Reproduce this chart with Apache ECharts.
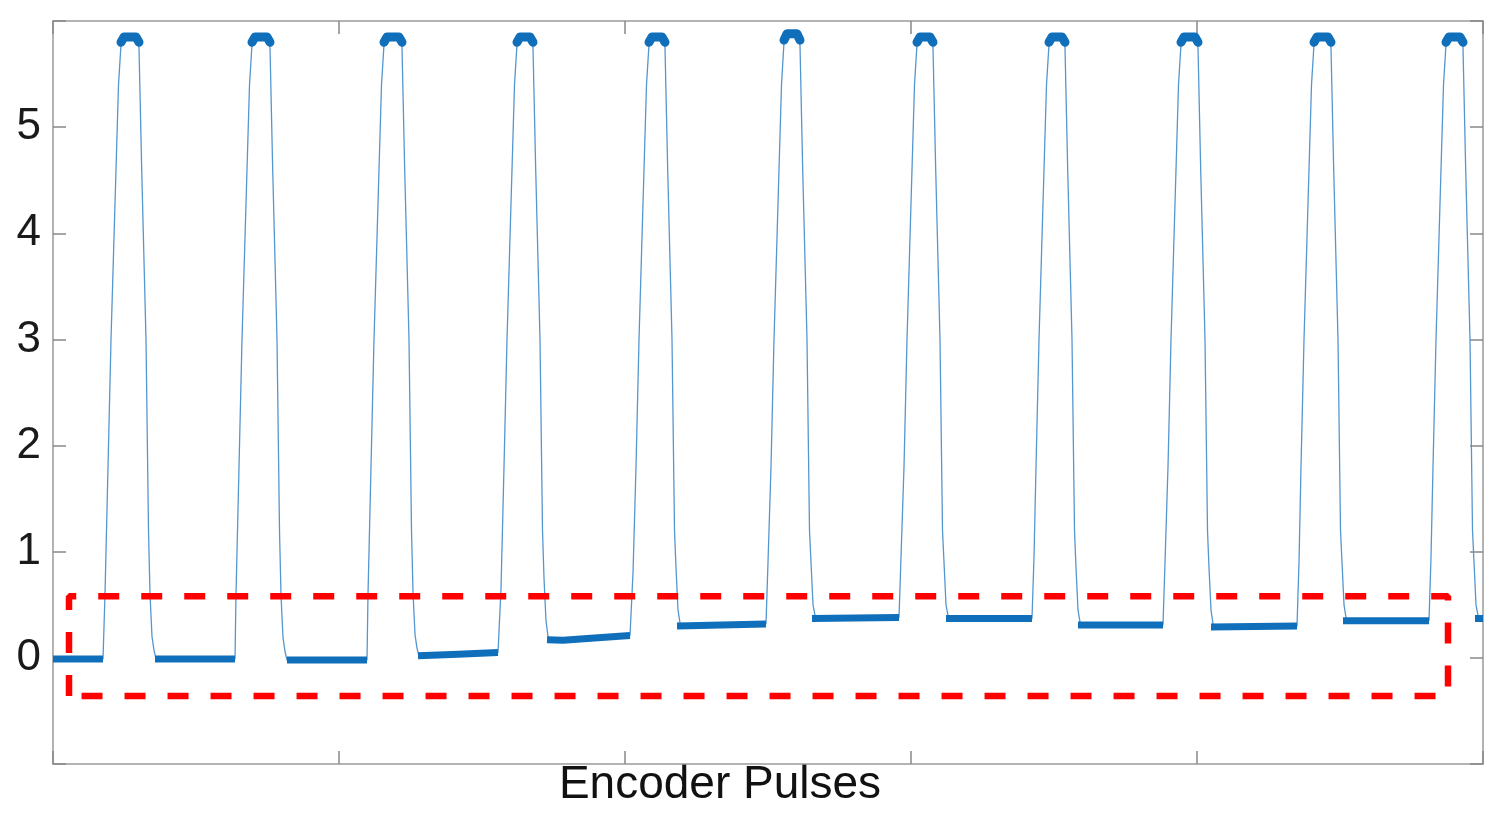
<!DOCTYPE html>
<html>
<head>
<meta charset="utf-8">
<script src="https://cdn.jsdelivr.net/npm/echarts@6/dist/echarts.min.js"></script>
<style>
html,body{margin:0;padding:0;background:#fff;}
#chart{width:1500px;height:815px;}
</style>
</head>
<body>
<div id="chart"></div>
<script>
// Y tick labels
var yTicks = [0, 1, 2, 3, 4, 5];
var xAxisName = 'Encoder Pulses';

// Encoder signal (x in samples, y in volts)
var signal = [
  [0,-0.01],[50,-0.01],
  [52,0.6],[55,1.8],[58,3.0],[63,4.6],[65.5,5.4],[68,5.78],[71,5.85],[83,5.85],[86,5.75],[88.7,4.6],[93,3.0],[95.5,1.2],[97,0.6],[99,0.2],[101,0.07],[103,-0.01],[182,-0.01],
  [183,0.6],[186,1.8],[189,3.0],[194,4.6],[196.5,5.4],[199,5.78],[202,5.85],[214,5.85],[217,5.75],[219.7,4.6],[224,3.0],[226.5,1.2],[228,0.59],[230,0.19],[232,0.06],[234,-0.02],[314,-0.02],
  [315,0.6],[318,1.8],[321,3.0],[326,4.6],[328.5,5.4],[331,5.78],[334,5.85],[346,5.85],[349,5.75],[351.7,4.6],[356,3.0],[358.5,1.2],[360,0.62],[362,0.22],[364,0.09],[366,0.02],[445,0.05],
  [448,0.65],[451,1.8],[454,3.0],[459,4.6],[461.5,5.4],[464,5.78],[467,5.85],[477,5.85],[480,5.75],[482.7,4.6],[487,3.0],[489.5,1.2],[491,0.75],[493,0.35],[495,0.2],[497,0.16],[510,0.17],[545,0.19],[577,0.21],
  [580,0.8],[583,1.8],[586,3.0],[591,4.6],[593.5,5.4],[596,5.78],[599,5.85],[609,5.85],[612,5.75],[614.7,4.6],[619,3.0],[621.5,1.2],[623,0.85],[625,0.45],[627,0.33],[629,0.3],[713,0.32],
  [715,0.9],[718,1.8],[721,3.0],[726,4.6],[728.5,5.4],[731,5.8],[734,5.88],[744,5.88],[747,5.77],[749.7,4.6],[754,3.0],[756.5,1.2],[758,0.9],[760,0.5],[762,0.4],[764,0.37],[846,0.38],
  [848,0.95],[851,1.8],[854,3.0],[859,4.6],[861.5,5.4],[864,5.78],[867,5.85],[877,5.85],[880,5.75],[882.7,4.6],[887,3.0],[889.5,1.2],[891,0.9],[893,0.5],[895,0.4],[897,0.37],[979,0.37],
  [981,0.95],[983,1.8],[986,3.0],[991,4.6],[993.5,5.4],[996,5.78],[999,5.85],[1009,5.85],[1012,5.75],[1014.7,4.6],[1019,3.0],[1021.5,1.2],[1023,0.85],[1025,0.45],[1027,0.34],[1029,0.31],[1110,0.31],
  [1112,0.9],[1115,1.8],[1118,3.0],[1123,4.6],[1125.5,5.4],[1128,5.78],[1131,5.85],[1142,5.85],[1145,5.75],[1147.7,4.6],[1152,3.0],[1154.5,1.2],[1156,0.85],[1158,0.45],[1160,0.32],[1162,0.29],[1244,0.3],
  [1246,0.9],[1248,1.8],[1251,3.0],[1256,4.6],[1258.5,5.4],[1261,5.78],[1264,5.85],[1275,5.85],[1278,5.75],[1280.7,4.6],[1285,3.0],[1287.5,1.2],[1289,0.9],[1291,0.5],[1293,0.38],[1295,0.35],[1376,0.35],
  [1378,0.95],[1380,1.8],[1383,3.0],[1388,4.6],[1390.5,5.4],[1393,5.78],[1396,5.85],[1407,5.85],[1410,5.75],[1412.7,4.6],[1417,3.0],[1419.5,1.2],[1421,0.9],[1423,0.5],[1425,0.4],[1427,0.37],[1430,0.37]
];

// Noisy low plateaus (drawn as thick bands)
var lowBands = [
  [[0,-0.01],[50,-0.01]],
  [[102,-0.01],[182,-0.01]],
  [[234,-0.02],[314,-0.02]],
  [[365,0.02],[405,0.035],[445,0.05]],
  [[494,0.17],[510,0.165],[545,0.19],[577,0.21]],
  [[624,0.3],[713,0.32]],
  [[759,0.37],[846,0.38]],
  [[893,0.37],[979,0.37]],
  [[1025,0.31],[1110,0.31]],
  [[1158,0.29],[1244,0.3]],
  [[1290,0.35],[1376,0.35]],
  [[1422,0.37],[1430,0.37]]
];

// Noisy high plateaus
var topBands = [
  [[68,5.8],[71,5.85],[83,5.85],[86,5.8]],
  [[199,5.8],[202,5.85],[214,5.85],[217,5.8]],
  [[331,5.8],[334,5.85],[346,5.85],[349,5.8]],
  [[464,5.8],[467,5.85],[477,5.85],[480,5.8]],
  [[596,5.8],[599,5.85],[609,5.85],[612,5.8]],
  [[731,5.82],[734,5.88],[744,5.88],[747,5.82]],
  [[864,5.8],[867,5.85],[877,5.85],[880,5.8]],
  [[996,5.8],[999,5.85],[1009,5.85],[1012,5.8]],
  [[1128,5.8],[1131,5.85],[1142,5.85],[1145,5.8]],
  [[1261,5.8],[1264,5.85],[1275,5.85],[1278,5.8]],
  [[1393,5.8],[1396,5.85],[1407,5.85],[1410,5.8]]
];

// Red highlight box corners
var boxX = [16, 1395];
var boxY = [-0.36, 0.58];

var chart = echarts.init(document.getElementById('chart'));

var axisGray = '#9a9a9a';
var thinColor = '#5596cf';
var bandColor = '#106fbb';

var series = [];
series.push({
  type: 'line', data: signal, showSymbol: false, silent: true,
  lineStyle: {color: thinColor, width: 1.3}, z: 2, animation: false
});
lowBands.forEach(function (seg) {
  series.push({
    type: 'line', data: seg, showSymbol: false, silent: true,
    lineStyle: {color: bandColor, width: 7}, z: 3, animation: false
  });
});
topBands.forEach(function (seg) {
  series.push({
    type: 'line', data: seg, showSymbol: false, silent: true,
    lineStyle: {color: bandColor, width: 9, cap: 'round', join: 'round'}, z: 3, animation: false
  });
});
series.push({
  type: 'line',
  data: [[boxX[0], boxY[0]], [boxX[0], boxY[1]], [boxX[1], boxY[1]], [boxX[1], boxY[0]], [boxX[0], boxY[0]]],
  showSymbol: false, silent: true,
  lineStyle: {color: '#ff0000', width: 6.5, type: [21, 22]},
  z: 5, animation: false
});

function axisCommon(pos) {
  return {
    position: pos,
    axisLine: {show: true, onZero: false, lineStyle: {color: axisGray, width: 1.5}},
    axisTick: {show: true, inside: true, length: 13, lineStyle: {color: '#888', width: 1.5}},
    splitLine: {show: false}
  };
}

var xb = Object.assign({type: 'value', min: 0, max: 1430, interval: 286, axisLabel: {show: false}}, axisCommon('bottom'));
var xt = Object.assign({type: 'value', min: 0, max: 1430, interval: 286, axisLabel: {show: false}}, axisCommon('top'));
var yl = Object.assign({
  type: 'value', min: -1, max: 6, interval: 1,
  axisLabel: {
    show: true, margin: 12, fontSize: 44, color: '#1a1a1a', fontFamily: 'Liberation Sans, Arial, sans-serif',
    formatter: function (v) { return yTicks.indexOf(v) >= 0 ? String(v) : ''; }
  }
}, axisCommon('left'));
var yr = Object.assign({type: 'value', min: -1, max: 6, interval: 1, axisLabel: {show: false}}, axisCommon('right'));

chart.setOption({
  animation: false,
  backgroundColor: '#ffffff',
  grid: {left: 53, right: 17, top: 21, bottom: 51, containLabel: false},
  xAxis: [xb, xt],
  yAxis: [yl, yr],
  series: series,
  graphic: [{
    type: 'text', x: 720, y: 785,
    style: {
      text: xAxisName, textAlign: 'center', textVerticalAlign: 'middle',
      fontSize: 46, fill: '#111', fontFamily: 'Liberation Sans, Arial, sans-serif'
    }
  }]
});
</script>
</body>
</html>
